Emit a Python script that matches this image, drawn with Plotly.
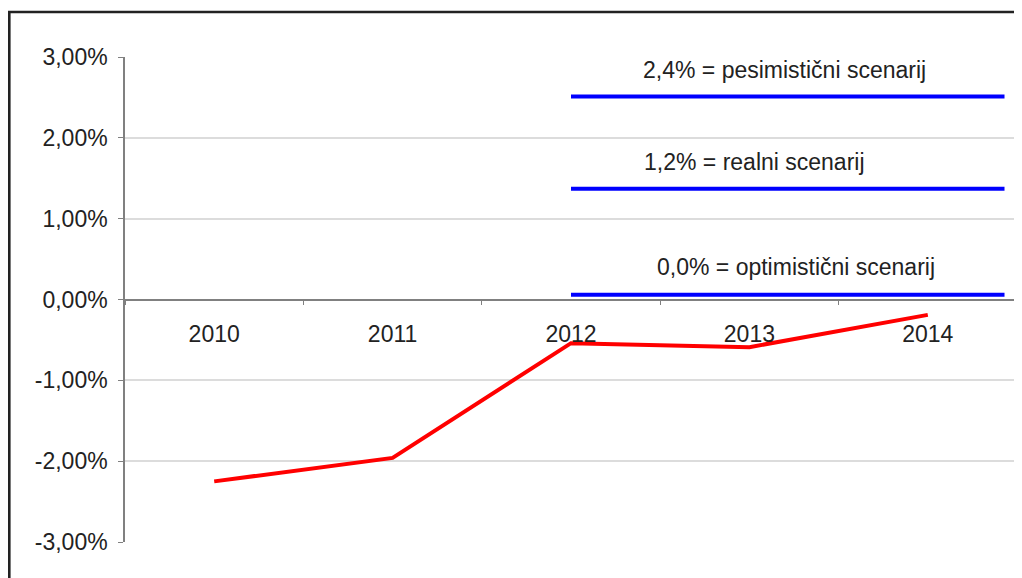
import plotly.graph_objects as go

years = ["2010", "2011", "2012", "2013", "2014"]
actual = [-2.25, -1.96, -0.54, -0.59, -0.19]

scenario_names = ["2,4% = pesimistični scenarij", "1,2% = realni scenarij", "0,0% = optimistični scenarij"]
scenario_values = [2.51, 1.37, 0.06]
scenario_x = [2.0, 4.43]

y_ticks = [-3, -2, -1, 0, 1, 2, 3]
y_tick_labels = ["-3,00%", "-2,00%", "-1,00%", "0,00%", "1,00%", "2,00%", "3,00%"]

FONT = "Liberation Sans, Arial, sans-serif"
FS = 23
xi = list(range(len(years)))

# page has an 8px body margin; margins compensate for it
L, R, T, B = 117, 13, 49, 44
PW = 1022 - L - R
PH = 578 - T - B

fig = go.Figure()
for name, v in zip(scenario_names, scenario_values):
    fig.add_trace(go.Scatter(x=scenario_x, y=[v, v], mode="lines",
                             line=dict(color="#0000ff", width=4), name=name,
                             showlegend=False, hoverinfo="skip"))
fig.add_trace(go.Scatter(x=xi, y=actual, mode="lines",
                         line=dict(color="#ff0000", width=4), showlegend=False))

ann_pos = [(3.195, 2.84), (3.03, 1.70), (3.26, 0.40)]
for name, (ax, ay) in zip(scenario_names, ann_pos):
    fig.add_annotation(x=ax, y=ay, text=name, showarrow=False,
                       font=dict(family=FONT, size=FS, color="#222"))

fig.add_shape(type="rect", xref="paper", yref="paper",
              x0=(1.3 - L) / PW, x1=1.1, y0=-0.3, y1=1 + (T - 4) / PH,
              line=dict(color="#222", width=2.6), layer="above")

fig.update_layout(
    width=1022, height=578,
    margin=dict(l=L, r=R, t=T, b=B),
    paper_bgcolor="white", plot_bgcolor="white",
    font=dict(family=FONT, size=FS, color="#222"),
    xaxis=dict(range=[-0.5, 4.5], tickvals=xi, ticktext=years, ticks="",
               showgrid=False, zeroline=False, showline=True, linecolor="#808080",
               linewidth=1.5, anchor="free", position=0.5, ticklabelstandoff=14,
               minor=dict(tickvals=[-0.5, 0.5, 1.5, 2.5, 3.5, 4.5], ticks="outside",
                          ticklen=5, tickcolor="#808080", showgrid=False),
               fixedrange=True),
    yaxis=dict(range=[-3, 3], tickvals=y_ticks, ticktext=y_tick_labels,
               ticks="outside", ticklen=5, tickcolor="#808080",
               showline=True, linecolor="#808080", linewidth=1.5,
               gridcolor="#dcdcdc", gridwidth=1.5, zeroline=False,
               ticklabelstandoff=6),
)

fig.write_html("out.html")
